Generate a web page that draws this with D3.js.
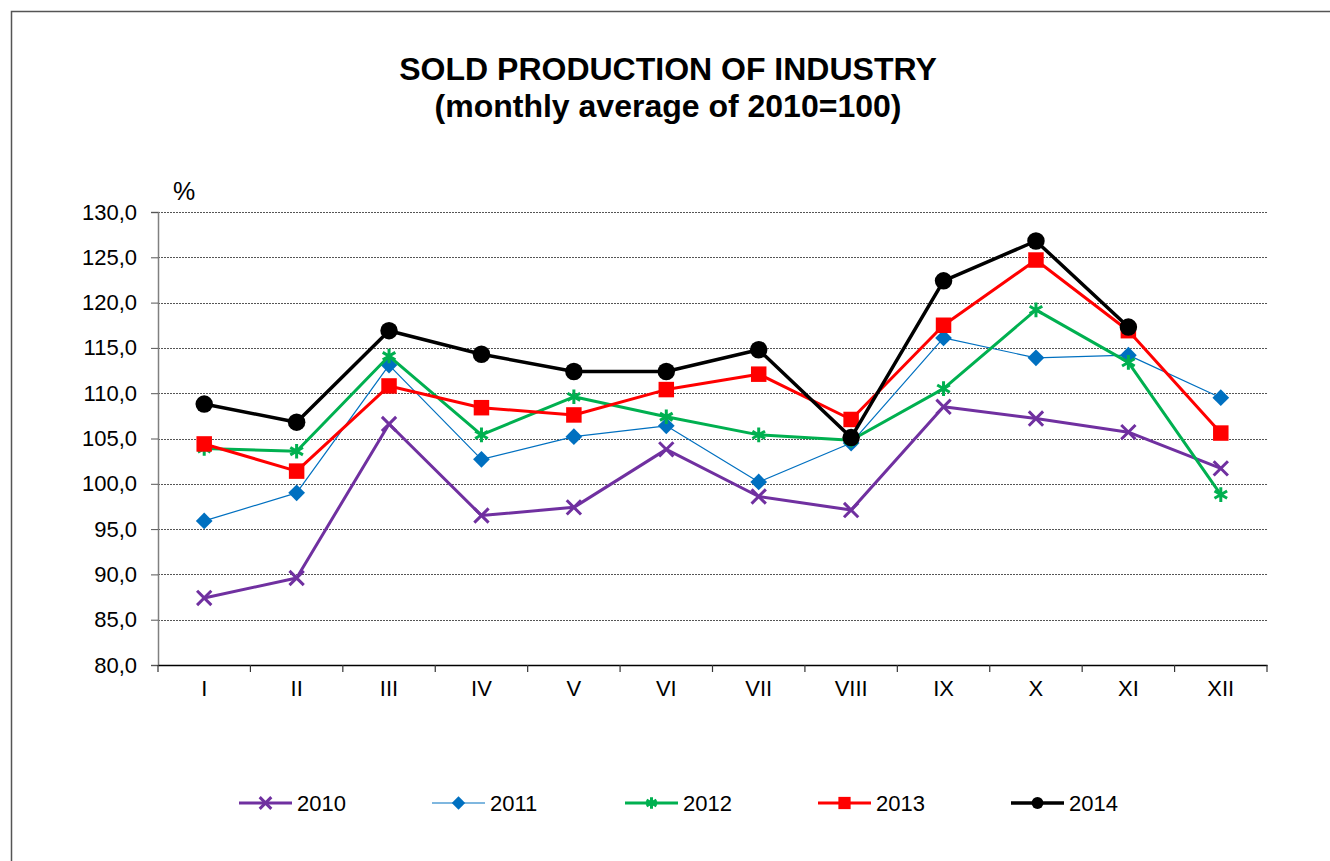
<!DOCTYPE html>
<html>
<head>
<meta charset="utf-8">
<script src="https://cdn.jsdelivr.net/npm/d3@7"></script>
<style>
  html, body { margin: 0; padding: 0; background: #fff; }
  svg { display: block; font-family: "Liberation Sans", Arial, sans-serif; }
</style>
</head>
<body>
<svg id="chart"></svg>
<script>
// chart data
const months = ["I", "II", "III", "IV", "V", "VI", "VII", "VIII", "IX", "X", "XI", "XII"];
const yTicks = [80, 85, 90, 95, 100, 105, 110, 115, 120, 125, 130];
const values2010 = [87.4, 89.6, 106.6, 96.5, 97.4, 103.8, 98.6, 97.1, 108.5, 107.2, 105.7, 101.7];
const values2011 = [95.9, 99.0, 113.1, 102.7, 105.2, 106.4, 100.2, 104.5, 116.1, 113.9, 114.2, 109.5];
const values2012 = [103.9, 103.6, 114.1, 105.4, 109.6, 107.4, 105.4, 104.8, 110.5, 119.2, 113.4, 98.8];
const values2013 = [104.4, 101.4, 110.8, 108.4, 107.6, 110.4, 112.1, 107.1, 117.5, 124.7, 116.9, 105.6];
const values2014 = [108.8, 106.8, 116.9, 114.3, 112.4, 112.4, 114.8, 105.1, 122.4, 126.8, 117.3, null];

const width = 1330, height = 861;
const marginLeft = 158, marginRight = 63, marginTop = 212, marginBottom = 196;

const series = [
  { name: "2010", values: values2010, color: "#7030A0", lw: 3,   symbol: d3.symbolTimes,    size: 135, legendSize: 90,  stroke: true },
  { name: "2011", values: values2011, color: "#0070C0", lw: 1.2, symbol: d3.symbolSquare,   size: 140, legendSize: 90,  rotate: 45 },
  { name: "2012", values: values2012, color: "#00B050", lw: 3,   symbol: d3.symbolAsterisk, size: 150, legendSize: 95,  stroke: true },
  { name: "2013", values: values2013, color: "#FF0000", lw: 3,   symbol: d3.symbolSquare,   size: 240, legendSize: 150 },
  { name: "2014", values: values2014, color: "#000000", lw: 3.5, symbol: d3.symbolCircle,   size: 240, legendSize: 110 }
];

const svg = d3.select("#chart")
  .attr("width", width)
  .attr("height", height)
  .attr("viewBox", [0, 0, width, height]);

// outer frame (only top/left visible in the original)
svg.append("rect")
  .attr("x", 11.5).attr("y", 11.5)
  .attr("width", width).attr("height", height)
  .attr("fill", "none")
  .attr("stroke", "#555")
  .attr("stroke-width", 1.5);

const x = d3.scaleBand()
  .domain(months)
  .range([marginLeft, width - marginRight]);

const y = d3.scaleLinear()
  .domain([80, 130])
  .range([height - marginBottom, marginTop]);

const cx = m => x(m) + x.bandwidth() / 2;

// title
svg.append("text")
  .attr("x", 668).attr("y", 80)
  .attr("text-anchor", "middle")
  .attr("font-size", 32).attr("font-weight", "bold")
  .text("SOLD PRODUCTION OF INDUSTRY");
svg.append("text")
  .attr("x", 668).attr("y", 117)
  .attr("text-anchor", "middle")
  .attr("font-size", 32).attr("font-weight", "bold")
  .text("(monthly average of 2010=100)");

// gridlines
svg.append("g")
  .selectAll("line")
  .data(yTicks.filter(d => d > 80))
  .join("line")
    .attr("x1", marginLeft).attr("x2", width - marginRight)
    .attr("y1", d => Math.round(y(d)) + 0.5)
    .attr("y2", d => Math.round(y(d)) + 0.5)
    .attr("stroke", "#555")
    .attr("stroke-dasharray", "2,1");

// y axis
svg.append("g")
  .attr("transform", `translate(${marginLeft},0)`)
  .call(d3.axisLeft(y).tickValues(yTicks).tickSize(7).tickPadding(14)
    .tickFormat(d => d3.format(".1f")(d).replace(".", ",")))
  .call(g => g.select(".domain").attr("stroke", "#808080").attr("stroke-width", 1.5))
  .call(g => g.selectAll(".tick line").attr("stroke", "#555"))
  .call(g => g.selectAll(".tick text").attr("font-size", 22).attr("fill", "#000")
    .attr("font-family", "Liberation Sans, Arial, sans-serif"));

svg.append("text")
  .attr("x", 173).attr("y", 200)
  .attr("font-size", 25)
  .text("%");

// x axis
const xAxis = svg.append("g")
  .attr("transform", `translate(0,${y(80)})`)
  .call(d3.axisBottom(x).tickSize(0).tickPadding(15).tickSizeOuter(0))
  .call(g => g.select(".domain").attr("stroke", "#000").attr("stroke-width", 1.5))
  .call(g => g.selectAll(".tick text").attr("font-size", 22).attr("fill", "#000")
    .attr("font-family", "Liberation Sans, Arial, sans-serif"));

xAxis.append("g")
  .selectAll("line")
  .data(months.concat(["end"]))
  .join("line")
    .attr("x1", (d, i) => marginLeft + i * x.step())
    .attr("x2", (d, i) => marginLeft + i * x.step())
    .attr("y1", 0).attr("y2", 7)
    .attr("stroke", "#333").attr("stroke-width", 1.2);

// series lines and markers
const line = d3.line()
  .defined(d => d.v != null)
  .x(d => cx(d.m))
  .y(d => y(d.v));

function drawMarker(sel, s, size) {
  const path = d3.symbol().type(s.symbol).size(size)();
  sel.append("path")
    .attr("d", path)
    .attr("transform", s.rotate ? `rotate(${s.rotate})` : null)
    .attr("fill", s.stroke ? "none" : s.color)
    .attr("stroke", s.color)
    .attr("stroke-width", s.stroke ? 3 : 0);
}

series.forEach(s => {
  const pts = s.values.map((v, i) => ({ m: months[i], v }));
  const g = svg.append("g");
  g.append("path")
    .datum(pts)
    .attr("d", line)
    .attr("fill", "none")
    .attr("stroke", s.color)
    .attr("stroke-width", s.lw)
    .attr("stroke-linejoin", "round");
  g.selectAll("g.pt")
    .data(pts.filter(d => d.v != null))
    .join("g")
      .attr("class", "pt")
      .attr("transform", d => `translate(${cx(d.m)},${y(d.v)})`)
      .each(function() { drawMarker(d3.select(this), s, s.size); });
});

// legend
const legend = svg.append("g")
  .selectAll("g")
  .data(series)
  .join("g")
    .attr("transform", (d, i) => `translate(${239 + i * 193},803)`);

legend.append("line")
  .attr("x1", 0).attr("x2", 53)
  .attr("stroke", d => d.color)
  .attr("stroke-width", d => d.lw);

legend.each(function(d) {
  const m = d3.select(this).append("g").attr("transform", "translate(26.5,0)");
  drawMarker(m, d, d.legendSize);
});

legend.append("text")
  .attr("x", 58).attr("y", 8)
  .attr("font-size", 22)
  .text(d => d.name);
</script>
</body>
</html>
